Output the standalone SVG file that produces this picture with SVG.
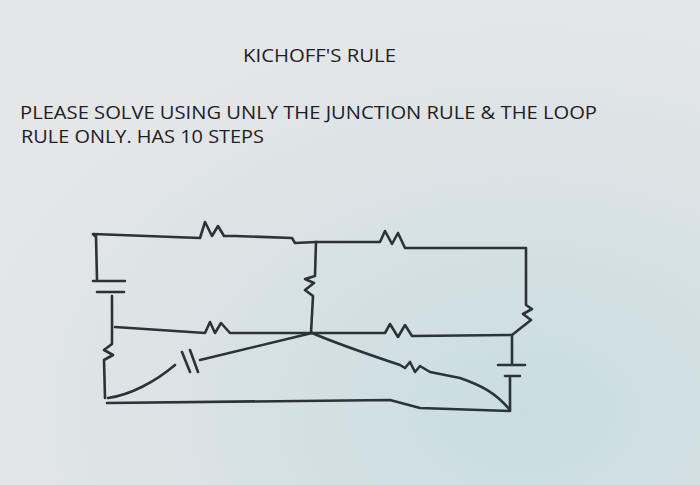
<svg xmlns="http://www.w3.org/2000/svg" width="700" height="485" viewBox="0 0 700 485">
<style>
.t{font-family:"Open Sans","Liberation Sans",sans-serif;font-size:19px;fill:#1e2024}
.w{fill:none;stroke:#2b3338;stroke-width:2.6;stroke-linecap:round;stroke-linejoin:round}
</style>
<defs><radialGradient id="g" cx="0.75" cy="0.85" r="0.8"><stop offset="0" stop-color="#c9dde0"/><stop offset="1" stop-color="#e4e6e8"/></radialGradient></defs>
<rect width="700" height="485" fill="url(#g)"/>
<text class="t" x="243" y="62" textLength="153" lengthAdjust="spacingAndGlyphs">KICHOFF'S RULE</text>
<text class="t" x="20" y="119" textLength="577" lengthAdjust="spacingAndGlyphs">PLEASE SOLVE USING UNLY THE JUNCTION RULE &amp; THE LOOP</text>
<text class="t" x="21" y="143" textLength="243" lengthAdjust="spacingAndGlyphs">RULE ONLY. HAS 10 STEPS</text>
<g id="circuit" class="w">
<path d="M95,236 L93,234 L200,238 L205,222 L212,236 L218,226 L224,236 L235,236 L292,238 L295,243 L316,242"/>
<path d="M96,236 L97,280 M93,281 L125,281 M97,292 L124,292 M112,296 L112,344 L104,350 L113,355 L104,360 L105,398"/>
<path d="M316,242 L315,276 L305,279 L314,283 L305,290 L313,296 L311,333"/>
<path d="M316,242 L380,242 L385,231 L392,244 L398,233 L405,248 L420,248 L526,248 L526,305 L532,309 L523,314 L531,320 L512,335"/>
<path d="M115,327 L205,333 L210,322 L215,333 L221,323 L230,333 L312,333 L385,333 L390,324 L398,337 L405,325 L412,336 L512,335"/>
<path d="M512,336 L512,364 M498,365 L525,365 M505,376 L520,376 M510,378 L510,410"/>
<path d="M312,333 L200,360 M190,350 L198,372 M182,352 L190,372 M175,365 C155,382 130,395 108,398"/>
<path d="M312,333 C340,345 370,355 400,365 L405,368 L410,362 L415,372 L420,366 L430,372 L460,378 C480,385 495,392 510,410"/>
<path d="M107,403 L390,400 L420,408 L510,411"/>
</g>
</svg>
